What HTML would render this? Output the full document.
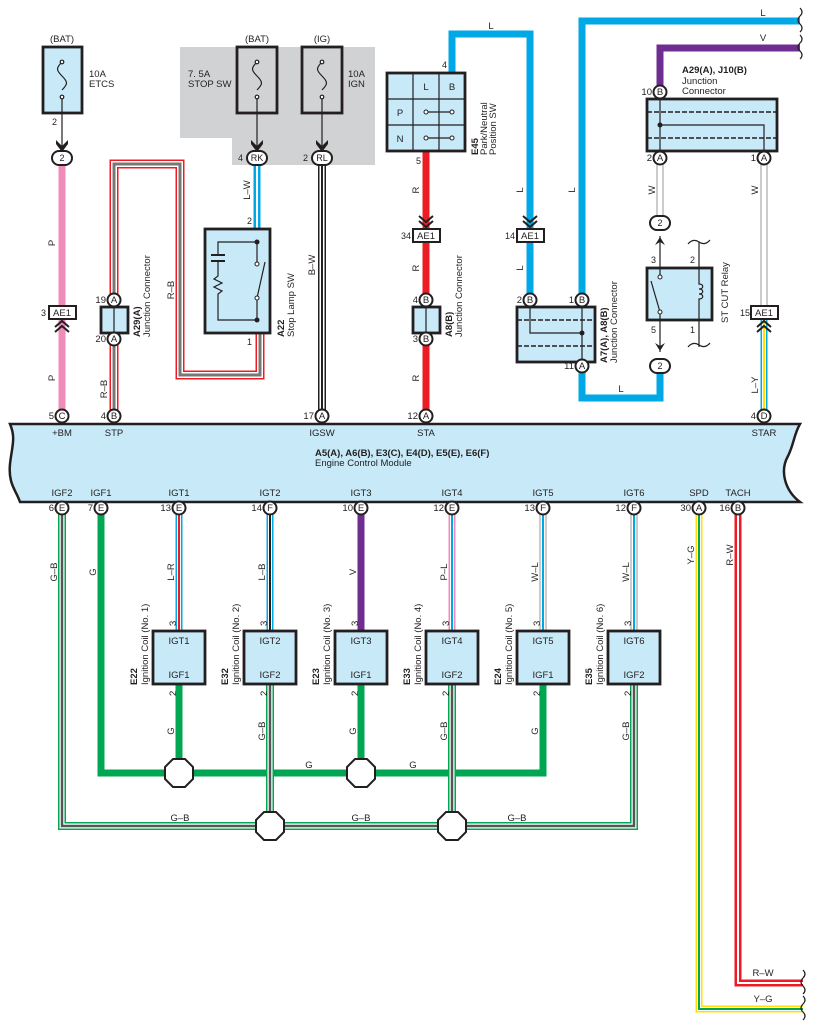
<!DOCTYPE html>
<html><head><meta charset="utf-8"><style>
html,body{margin:0;padding:0;background:#fff}
svg{display:block}
text{font-family:"Liberation Sans",sans-serif;font-size:9.5px;fill:#231f20}
.b{font-weight:bold}
.n{font-size:9px}
.w{fill:none;stroke-linejoin:miter;stroke-linecap:butt}
.bx{fill:#c7e9f8;stroke:#231f20;stroke-width:2.8}
.pin{fill:#fff;stroke:#231f20;stroke-width:2}
.th{fill:none;stroke:#231f20;stroke-width:1.2}
</style></head><body>
<svg width="815" height="1030" viewBox="0 0 815 1030" xmlns="http://www.w3.org/2000/svg">
<polygon points="180,47 375,47 375,165 232,165 232,138 180,138" fill="#d1d2d4"/>

<path class="w" d="M62,165 V410" stroke="#f08cba" stroke-width="7"/>
<g class="w">
<path d="M114,410 V164 H180 V375 H260 V333" stroke="#ed1c24" stroke-width="9" fill="none"/>
<path d="M114,410 V164 H180 V375 H260 V333" stroke="#fff" stroke-width="6" fill="none"/>
<path d="M114,410 V164 H180 V375 H260 V333" stroke="#777" stroke-width="3" fill="none"/>
</g>
<path class="w" d="M257,165 V230" stroke="#00a9e6" stroke-width="7"/>
<path class="w" d="M257,165 V230" stroke="#fff" stroke-width="2"/>
<path class="w" d="M322,165 V410" stroke="#231f20" stroke-width="8"/>
<path class="w" d="M322,165 V410" stroke="#fff" stroke-width="5"/>
<path class="w" d="M322,165 V410" stroke="#231f20" stroke-width="2"/>
<path class="w" d="M426,151 V410" stroke="#ed1c24" stroke-width="7"/>
<path class="w" d="M452,73 V34 H530 V300" stroke="#00a9e6" stroke-width="7"/>
<path class="w" d="M582,300 V21 H800" stroke="#00a9e6" stroke-width="7"/>
<path class="w" d="M582,366 V398 H660 V366" stroke="#00a9e6" stroke-width="7"/>
<path class="w" d="M660,92 V48 H800" stroke="#6f2c91" stroke-width="7"/>
<path class="w" d="M660,158 V223" stroke="#999" stroke-width="7"/>
<path class="w" d="M660,158 V223" stroke="#fff" stroke-width="5"/>
<path class="w" d="M764,158 V312" stroke="#999" stroke-width="7"/>
<path class="w" d="M764,158 V312" stroke="#fff" stroke-width="5"/>
<path class="w" d="M764,318 V410" stroke="#00a9e6" stroke-width="7"/>
<path class="w" d="M764,318 V410" stroke="#fff" stroke-width="4"/>
<path class="w" d="M764,318 V410" stroke="#ffe000" stroke-width="2.2"/>

<g>
<path class="w" d="M62,508 V826 H634 V684" stroke="#00a651" stroke-width="8"/>
<path class="w" d="M62,508 V826 H634 V684" stroke="#fff" stroke-width="5"/>
<path class="w" d="M62,508 V826 H634 V684" stroke="#555" stroke-width="2.5"/>
<path class="w" d="M270,684 V826" stroke="#00a651" stroke-width="8"/>
<path class="w" d="M270,684 V826" stroke="#fff" stroke-width="5"/>
<path class="w" d="M270,684 V826" stroke="#555" stroke-width="2.5"/>
<path class="w" d="M452,684 V826" stroke="#00a651" stroke-width="8"/>
<path class="w" d="M452,684 V826" stroke="#fff" stroke-width="5"/>
<path class="w" d="M452,684 V826" stroke="#555" stroke-width="2.5"/>
</g>
<path class="w" d="M101,508 V773 H543 V684" stroke="#00a651" stroke-width="7" stroke-linejoin="round"/>
<path class="w" d="M179,684 V773" stroke="#00a651" stroke-width="7"/>
<path class="w" d="M361,684 V773" stroke="#00a651" stroke-width="7"/>
<path class="w" d="M270,760 V790" stroke="#00a651" stroke-width="8"/>
<path class="w" d="M270,760 V790" stroke="#fff" stroke-width="5"/>
<path class="w" d="M270,760 V790" stroke="#555" stroke-width="2.5"/>
<path class="w" d="M452,760 V790" stroke="#00a651" stroke-width="8"/>
<path class="w" d="M452,760 V790" stroke="#fff" stroke-width="5"/>
<path class="w" d="M452,760 V790" stroke="#555" stroke-width="2.5"/>
<path class="w" d="M179,508 V631" stroke="#00a9e6" stroke-width="7"/><path class="w" d="M179,508 V631" stroke="#fff" stroke-width="4"/><path class="w" d="M179,508 V631" stroke="#ed1c24" stroke-width="2"/>
<path class="w" d="M270,508 V631" stroke="#00a9e6" stroke-width="7"/><path class="w" d="M270,508 V631" stroke="#fff" stroke-width="4"/><path class="w" d="M270,508 V631" stroke="#231f20" stroke-width="2"/>
<path class="w" d="M361,508 V631" stroke="#6f2c91" stroke-width="7"/>
<path class="w" d="M452,508 V631" stroke="#f08cba" stroke-width="7"/><path class="w" d="M452,508 V631" stroke="#fff" stroke-width="4"/><path class="w" d="M452,508 V631" stroke="#00a9e6" stroke-width="2"/>
<path class="w" d="M543,508 V631" stroke="#999" stroke-width="7"/><path class="w" d="M543,508 V631" stroke="#fff" stroke-width="5"/><path class="w" d="M543,508 V631" stroke="#00a9e6" stroke-width="2"/>
<path class="w" d="M634,508 V631" stroke="#999" stroke-width="7"/><path class="w" d="M634,508 V631" stroke="#fff" stroke-width="5"/><path class="w" d="M634,508 V631" stroke="#00a9e6" stroke-width="2"/>
<path class="w" d="M699,508 V1009 H803" stroke="#ffe000" stroke-width="7"/><path class="w" d="M699,508 V1009 H803" stroke="#fff" stroke-width="4"/><path class="w" d="M699,508 V1009 H803" stroke="#00a651" stroke-width="2"/>
<path class="w" d="M738,508 V983 H803" stroke="#ed1c24" stroke-width="7"/><path class="w" d="M738,508 V983 H803" stroke="#fff" stroke-width="2"/>

<g fill="#fff" stroke="#231f20" stroke-width="2">
<polygon points="173,759 185,759 193,767 193,779 185,787 173,787 165,779 165,767"/>
<polygon points="355,759 367,759 375,767 375,779 367,787 355,787 347,779 347,767"/>
<polygon points="264,812 276,812 284,820 284,832 276,840 264,840 256,832 256,820"/>
<polygon points="446,812 458,812 466,820 466,832 458,840 446,840 438,832 438,820"/>
</g>

<g class="th" stroke-width="2">
<path d="M800,8 q4,4 0,8 q-4,4 0,8 q4,4 0,8"/>
<path d="M800,35 q4,4 0,8 q-4,4 0,8 q4,4 0,8"/>
<path d="M803,970 q4,4 0,8 q-4,4 0,8 q4,4 0,8"/>
<path d="M803,996 q4,4 0,8 q-4,4 0,8 q4,4 0,8"/>
</g>

<g>
<rect class="bx" x="43" y="47" width="39" height="66"/>
<rect class="bx" x="237" y="47" width="40" height="66" style="fill:#d1d2d4"/>
<rect class="bx" x="302" y="47" width="40" height="66" style="fill:#d1d2d4"/>
</g>
<g class="th">
<path d="M62,62 c-6,6 -6,8 0,14 c6,6 6,8 0,14"/><circle cx="62" cy="62" r="1.8" fill="#fff"/><circle cx="62" cy="97" r="1.8" fill="#fff"/>
<path d="M257,62 c-6,6 -6,8 0,14 c6,6 6,8 0,14"/><circle cx="257" cy="62" r="1.8" fill="#fff"/><circle cx="257" cy="97" r="1.8" fill="#fff"/>
<path d="M322,62 c-6,6 -6,8 0,14 c6,6 6,8 0,14"/><circle cx="322" cy="62" r="1.8" fill="#fff"/><circle cx="322" cy="97" r="1.8" fill="#fff"/>
<path d="M62,99 V150 M257,99 V150 M322,99 V150"/>
</g>
<g fill="#231f20">
<path d="M56,140 L62,146 L68,140 L68,144 L62,152 L56,144Z"/>
<path d="M251,140 L257,146 L263,140 L263,144 L257,152 L251,144Z"/>
<path d="M316,140 L322,146 L328,140 L328,144 L322,152 L316,144Z"/>
</g>
<text x="62" y="42" text-anchor="middle">(BAT)</text>
<text x="257" y="42" text-anchor="middle">(BAT)</text>
<text x="322" y="42" text-anchor="middle">(IG)</text>
<text x="89" y="77">10A</text><text x="89" y="87">ETCS</text>
<text x="188" y="77">7. 5A</text><text x="188" y="87">STOP SW</text>
<text x="348" y="77">10A</text><text x="348" y="87">IGN</text>
<text x="52" y="125" class="n">2</text>

<g class="pin">
<rect x="52" y="151" width="20" height="14" rx="7"/>
<rect x="247" y="151" width="20" height="14" rx="7"/>
<rect x="312" y="151" width="20" height="14" rx="7"/>
<rect x="650" y="216" width="20" height="14" rx="7"/>
<rect x="650" y="359" width="20" height="14" rx="7"/>
</g>
<text x="62" y="161" text-anchor="middle" class="n">2</text>
<text x="257" y="161" text-anchor="middle" class="n">RK</text>
<text x="322" y="161" text-anchor="middle" class="n">RL</text>
<text x="660" y="226" text-anchor="middle" class="n">2</text>
<text x="660" y="369" text-anchor="middle" class="n">2</text>
<text x="238" y="161" class="n">4</text><text x="303" y="161" class="n">2</text>

<g fill="#fff" stroke="#231f20" stroke-width="2">
<rect x="49" y="306" width="27" height="13"/>
<rect x="413" y="229" width="27" height="13"/>
<rect x="517" y="229" width="27" height="13"/>
<rect x="751" y="306" width="27" height="13"/>
</g>
<text x="62" y="316" text-anchor="middle">AE1</text>
<text x="426" y="239" text-anchor="middle">AE1</text>
<text x="530" y="239" text-anchor="middle">AE1</text>
<text x="764" y="316" text-anchor="middle">AE1</text>
<text x="41" y="316" class="n">3</text><text x="401" y="239" class="n">34</text><text x="505" y="239" class="n">14</text><text x="740" y="316" class="n">15</text>
<g fill="none" stroke="#231f20" stroke-width="2">
<path d="M55,327 L62,321 L69,327 M55,332 L62,326 L69,332"/>
<path d="M757,327 L764,321 L771,327 M757,332 L764,326 L771,332"/>
<path d="M419,216 L426,222 L433,216 M419,221 L426,227 L433,221"/>
<path d="M523,216 L530,222 L537,216 M523,221 L530,227 L537,221"/>
</g>
<text transform="translate(55,243) rotate(-90)" text-anchor="middle">P</text>
<text transform="translate(55,378) rotate(-90)" text-anchor="middle">P</text>

<rect class="bx" x="101" y="307" width="27" height="26"/>
<line x1="114" y1="307" x2="114" y2="333" stroke="#231f20" stroke-width="1.2"/>
<text transform="translate(140,337) rotate(-90)" class="b">A29(A)</text>
<text transform="translate(150,337) rotate(-90)">Junction Connector</text>
<text transform="translate(107,389) rotate(-90)" text-anchor="middle">R–B</text>
<text transform="translate(174,290) rotate(-90)" text-anchor="middle">R–B</text>
<text transform="translate(250,190) rotate(-90)" text-anchor="middle">L–W</text>
<text transform="translate(315,265) rotate(-90)" text-anchor="middle">B–W</text>

<rect class="bx" x="205" y="229" width="65" height="104"/>
<g class="th">
<path d="M257,242 V264 M257,298 V320 M257,242 H218 V255 M218,262 V276 l-4,3 l8,4 l-8,4 l8,4 l-4,3 V320 H257"/>
<path d="M211,255 H225 M211,261 H225" stroke-width="2"/>
<path d="M257,298 L265,262"/>
</g>
<circle cx="257" cy="242" r="2.5" fill="#231f20"/><circle cx="257" cy="320" r="2.5" fill="#231f20"/>
<circle cx="257" cy="264" r="2" fill="#fff" stroke="#231f20"/><circle cx="257" cy="298" r="2" fill="#fff" stroke="#231f20"/>
<text x="247" y="224" class="n">2</text><text x="247" y="345" class="n">1</text>
<text transform="translate(284,337) rotate(-90)" class="b">A22</text>
<text transform="translate(294,337) rotate(-90)">Stop Lamp SW</text>

<rect class="bx" x="387" y="73" width="78" height="78"/>
<g class="th"><path d="M413,73 V151 M439,73 V151 M387,99 H465 M387,125 H465 M426,112 H452 M426,138 H452"/></g>
<g fill="#fff" stroke="#231f20" stroke-width="1"><circle cx="426" cy="112" r="2"/><circle cx="452" cy="112" r="2"/><circle cx="426" cy="138" r="2"/><circle cx="452" cy="138" r="2"/></g>
<text x="426" y="90" text-anchor="middle">L</text><text x="452" y="90" text-anchor="middle">B</text>
<text x="400" y="116" text-anchor="middle">P</text><text x="400" y="142" text-anchor="middle">N</text>
<text x="442" y="68" class="n">4</text><text x="416" y="164" class="n">5</text>
<text x="491" y="29" text-anchor="middle">L</text>
<text transform="translate(478,155) rotate(-90)" class="b">E45</text>
<text transform="translate(487,155) rotate(-90)">Park/Neutral</text>
<text transform="translate(496,155) rotate(-90)">Position SW</text>
<text transform="translate(419,190) rotate(-90)" text-anchor="middle">R</text>
<text transform="translate(419,268) rotate(-90)" text-anchor="middle">R</text>
<text transform="translate(419,378) rotate(-90)" text-anchor="middle">R</text>
<text transform="translate(523,190) rotate(-90)" text-anchor="middle">L</text>
<text transform="translate(523,268) rotate(-90)" text-anchor="middle">L</text>
<text transform="translate(575,190) rotate(-90)" text-anchor="middle">L</text>
<text x="621" y="392" text-anchor="middle">L</text>

<rect class="bx" x="413" y="307" width="27" height="26"/>
<line x1="426" y1="307" x2="426" y2="333" stroke="#231f20" stroke-width="1.2"/>
<text transform="translate(452,337) rotate(-90)" class="b">A8(B)</text>
<text transform="translate(462,337) rotate(-90)">Junction Connector</text>

<rect class="bx" x="517" y="307" width="78" height="55"/>
<g class="th"><path d="M530,307 V333 H582 M582,307 V362"/><path d="M517,320 H595 M517,346 H595" stroke-dasharray="5,2" stroke-width="1.5"/></g>
<circle cx="582" cy="333" r="2.5" fill="#231f20"/>
<text transform="translate(607,363) rotate(-90)" class="b">A7(A), A8(B)</text>
<text transform="translate(617,363) rotate(-90)">Junction Connector</text>

<rect class="bx" x="647" y="99" width="130" height="52"/>
<g class="th"><path d="M660,99 V151 M660,125 H764 V151"/><path d="M647,112 H777 M647,138 H777" stroke-dasharray="5,2" stroke-width="1.5"/></g>
<circle cx="660" cy="125" r="2.5" fill="#231f20"/>
<text x="682" y="73" class="b">A29(A), J10(B)</text>
<text x="682" y="84">Junction</text><text x="682" y="94">Connector</text>
<text x="763" y="16" text-anchor="middle">L</text><text x="763" y="41" text-anchor="middle">V</text>
<text transform="translate(655,190) rotate(-90)" text-anchor="middle">W</text>
<text transform="translate(758,190) rotate(-90)" text-anchor="middle">W</text>
<text transform="translate(758,385) rotate(-90)" text-anchor="middle">L–Y</text>

<rect class="bx" x="647" y="268" width="65" height="52"/>
<g class="th">
<path d="M660,236 V277 M660,312 V352"/>
<path d="M660,312 L651,281"/>
<path d="M699,242 V284 c5,0 5,5 0,5 c5,0 5,5 0,5 c5,0 5,5 0,5 V347"/>
<path d="M688,244 q5,-6 11,-2 q6,4 11,-2 M688,347 q5,-6 11,-2 q6,4 11,-2"/>
</g>
<circle cx="660" cy="277" r="2" fill="#fff" stroke="#231f20"/><circle cx="660" cy="312" r="2" fill="#fff" stroke="#231f20"/>
<path d="M655,245 L660,237 L665,245 L660,242Z M655,343 L660,351 L665,343 L660,346Z" fill="#231f20"/>
<text x="651" y="263" class="n">3</text><text x="690" y="263" class="n">2</text>
<text x="651" y="333" class="n">5</text><text x="690" y="333" class="n">1</text>
<text transform="translate(728,323) rotate(-90)">ST CUT Relay</text>

<path d="M20,424 H800 c-6,10 -6,20 -12,32 c-8,14 -4,34 12,46 H20 c-4,-12 -12,-18 -10,-38 c2,-18 6,-26 0,-40 Z" fill="#c7e9f8" stroke="#231f20" stroke-width="2.5"/>
<g text-anchor="middle">
<text x="62" y="436">+BM</text><text x="114" y="436">STP</text><text x="322" y="436">IGSW</text><text x="426" y="436">STA</text><text x="764" y="436">STAR</text>
<text x="62" y="496">IGF2</text><text x="101" y="496">IGF1</text><text x="179" y="496">IGT1</text><text x="270" y="496">IGT2</text><text x="361" y="496">IGT3</text><text x="452" y="496">IGT4</text><text x="543" y="496">IGT5</text><text x="634" y="496">IGT6</text><text x="699" y="496">SPD</text><text x="738" y="496">TACH</text>
</g>
<text x="315" y="456" class="b">A5(A), A6(B), E3(C), E4(D), E5(E), E6(F)</text>
<text x="315" y="466">Engine Control Module</text>

<g class="pin">
<circle cx="114" cy="300" r="6.5"/><circle cx="114" cy="339" r="6.5"/>
<circle cx="426" cy="300" r="6.5"/><circle cx="426" cy="339" r="6.5"/>
<circle cx="530" cy="300" r="6.5"/><circle cx="582" cy="300" r="6.5"/><circle cx="582" cy="366" r="6.5"/>
<circle cx="660" cy="92" r="6.5"/><circle cx="660" cy="158" r="6.5"/><circle cx="764" cy="158" r="6.5"/>
<circle cx="62" cy="416" r="6.5"/><circle cx="114" cy="416" r="6.5"/><circle cx="322" cy="416" r="6.5"/><circle cx="426" cy="416" r="6.5"/><circle cx="764" cy="416" r="6.5"/>
<circle cx="62" cy="508" r="6.5"/><circle cx="101" cy="508" r="6.5"/><circle cx="179" cy="508" r="6.5"/><circle cx="270" cy="508" r="6.5"/><circle cx="361" cy="508" r="6.5"/><circle cx="452" cy="508" r="6.5"/><circle cx="543" cy="508" r="6.5"/><circle cx="634" cy="508" r="6.5"/><circle cx="699" cy="508" r="6.5"/><circle cx="738" cy="508" r="6.5"/>
</g>
<g class="n" text-anchor="middle">
<text x="114" y="303">A</text><text x="114" y="342">A</text>
<text x="426" y="303">B</text><text x="426" y="342">B</text>
<text x="530" y="303">B</text><text x="582" y="303">B</text><text x="582" y="369">A</text>
<text x="660" y="95">B</text><text x="660" y="161">A</text><text x="764" y="161">A</text>
<text x="62" y="419">C</text><text x="114" y="419">B</text><text x="322" y="419">A</text><text x="426" y="419">A</text><text x="764" y="419">D</text>
<text x="62" y="511">E</text><text x="101" y="511">E</text><text x="179" y="511">E</text><text x="270" y="511">F</text><text x="361" y="511">E</text><text x="452" y="511">E</text><text x="543" y="511">F</text><text x="634" y="511">F</text><text x="699" y="511">A</text><text x="738" y="511">B</text>
</g>
<g class="n" text-anchor="end">
<text x="106" y="303">19</text><text x="106" y="342">20</text>
<text x="418" y="303">4</text><text x="418" y="342">3</text>
<text x="522" y="303">2</text><text x="574" y="303">1</text><text x="574" y="369">11</text>
<text x="652" y="95">10</text><text x="652" y="161">2</text><text x="756" y="161">1</text>
<text x="54" y="419">5</text><text x="106" y="419">4</text><text x="314" y="419">17</text><text x="418" y="419">12</text><text x="756" y="419">4</text>
<text x="54" y="511">6</text><text x="93" y="511">7</text><text x="171" y="511">13</text><text x="262" y="511">14</text><text x="353" y="511">10</text><text x="444" y="511">12</text><text x="535" y="511">13</text><text x="626" y="511">12</text><text x="691" y="511">30</text><text x="730" y="511">16</text>
</g>

<g>
<rect class="bx" x="153" y="631" width="52" height="53"/>
<rect class="bx" x="244" y="631" width="52" height="53"/>
<rect class="bx" x="335" y="631" width="52" height="53"/>
<rect class="bx" x="426" y="631" width="52" height="53"/>
<rect class="bx" x="517" y="631" width="52" height="53"/>
<rect class="bx" x="608" y="631" width="52" height="53"/>
</g>
<g text-anchor="middle">
<text x="179" y="644">IGT1</text><text x="179" y="678">IGF1</text>
<text x="270" y="644">IGT2</text><text x="270" y="678">IGF2</text>
<text x="361" y="644">IGT3</text><text x="361" y="678">IGF1</text>
<text x="452" y="644">IGT4</text><text x="452" y="678">IGF2</text>
<text x="543" y="644">IGT5</text><text x="543" y="678">IGF1</text>
<text x="634" y="644">IGT6</text><text x="634" y="678">IGF2</text>
</g>
<g class="n">
<text transform="translate(176,626) rotate(-90)">3</text><text transform="translate(176,696) rotate(-90)">2</text>
<text transform="translate(267,626) rotate(-90)">3</text><text transform="translate(267,696) rotate(-90)">2</text>
<text transform="translate(358,626) rotate(-90)">3</text><text transform="translate(358,696) rotate(-90)">2</text>
<text transform="translate(449,626) rotate(-90)">3</text><text transform="translate(449,696) rotate(-90)">2</text>
<text transform="translate(540,626) rotate(-90)">3</text><text transform="translate(540,696) rotate(-90)">2</text>
<text transform="translate(631,626) rotate(-90)">3</text><text transform="translate(631,696) rotate(-90)">2</text>
</g>
<g>
<text transform="translate(137,685) rotate(-90)" class="b">E22</text><text transform="translate(148,685) rotate(-90)">Ignition Coil (No. 1)</text>
<text transform="translate(228,685) rotate(-90)" class="b">E32</text><text transform="translate(239,685) rotate(-90)">Ignition Coil (No. 2)</text>
<text transform="translate(319,685) rotate(-90)" class="b">E23</text><text transform="translate(330,685) rotate(-90)">Ignition Coil (No. 3)</text>
<text transform="translate(410,685) rotate(-90)" class="b">E33</text><text transform="translate(421,685) rotate(-90)">Ignition Coil (No. 4)</text>
<text transform="translate(501,685) rotate(-90)" class="b">E24</text><text transform="translate(512,685) rotate(-90)">Ignition Coil (No. 5)</text>
<text transform="translate(592,685) rotate(-90)" class="b">E35</text><text transform="translate(603,685) rotate(-90)">Ignition Coil (No. 6)</text>
</g>
<g text-anchor="middle">
<text transform="translate(57,572) rotate(-90)">G–B</text>
<text transform="translate(96,572) rotate(-90)">G</text>
<text transform="translate(174,572) rotate(-90)">L–R</text>
<text transform="translate(265,572) rotate(-90)">L–B</text>
<text transform="translate(356,572) rotate(-90)">V</text>
<text transform="translate(447,572) rotate(-90)">P–L</text>
<text transform="translate(538,572) rotate(-90)">W–L</text>
<text transform="translate(629,572) rotate(-90)">W–L</text>
<text transform="translate(694,555) rotate(-90)">Y–G</text>
<text transform="translate(733,555) rotate(-90)">R–W</text>
<text transform="translate(174,731) rotate(-90)">G</text>
<text transform="translate(265,731) rotate(-90)">G–B</text>
<text transform="translate(356,731) rotate(-90)">G</text>
<text transform="translate(447,731) rotate(-90)">G–B</text>
<text transform="translate(538,731) rotate(-90)">G</text>
<text transform="translate(629,731) rotate(-90)">G–B</text>
<text x="309" y="768">G</text><text x="413" y="768">G</text>
<text x="180" y="821">G–B</text><text x="361" y="821">G–B</text><text x="517" y="821">G–B</text>
<text x="763" y="976">R–W</text><text x="763" y="1002">Y–G</text>
</g>
</svg>
</body></html>
